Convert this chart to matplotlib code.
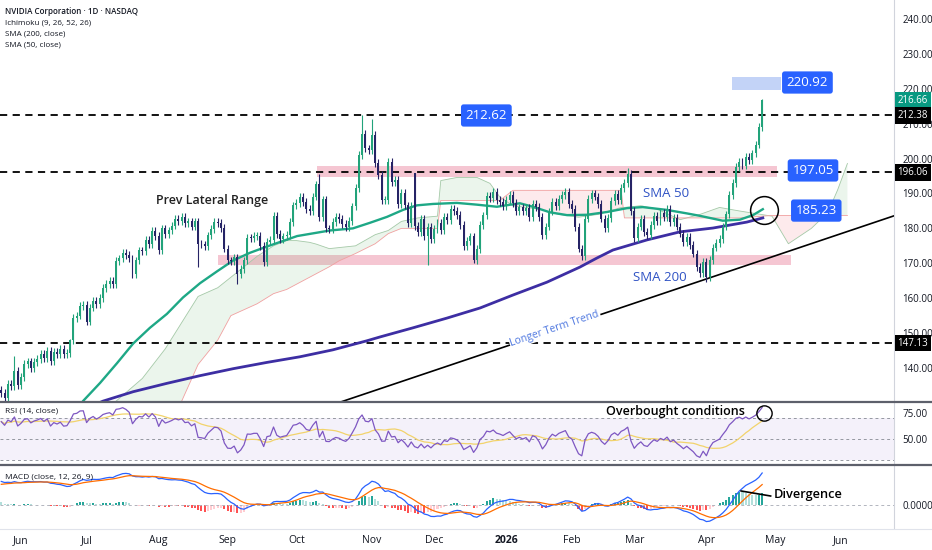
import numpy as np
import pandas as pd
import matplotlib
matplotlib.use("Agg")
import matplotlib.pyplot as plt
import matplotlib.transforms as mtransforms
from matplotlib.lines import Line2D
from matplotlib.patches import Rectangle

plt.rcParams['font.family'] = ['Open Sans', 'DejaVu Sans']

# ---------------------------------------------------------------- data
START = "2025-05-22"
HOLIDAYS = ["2025-05-26", "2025-06-19", "2025-07-04", "2025-09-01",
            "2025-11-27", "2025-12-25", "2026-01-01", "2026-01-19",
            "2026-02-16", "2026-04-03", "2026-05-25"]

# daily closes, one row per month (May 2025 .. Apr 2026)
closes = [
    132.8, 131.3, 135.5, 134.8, 139.2, 135.1,
    137.4, 141.2, 141.9, 140.0, 141.7, 142.6, 144.0, 142.8, 145.0, 142.0,
    144.7, 144.1, 145.5, 143.9, 144.2, 147.9, 154.3, 155.0, 157.8, 158.0,
    153.3, 157.3, 159.3, 158.2, 160.0, 162.9, 164.1, 164.9, 164.1, 170.7, 171.4,
    173.0, 172.4, 171.4, 167.0, 170.8, 173.7, 173.5, 176.8, 175.5, 179.3, 177.9,
    173.7, 180.0, 178.3, 179.4, 180.8, 182.7, 182.1, 183.2, 181.6, 182.0, 180.5,
    182.0, 175.6, 175.4, 175.0, 178.0, 179.8, 181.8, 181.6, 180.2, 174.2,
    170.8, 170.6, 171.7, 167.0, 168.3, 170.8, 177.3, 177.2, 177.8, 177.8, 174.9,
    170.3, 176.2, 176.7, 183.6, 178.4, 177.0, 177.7, 178.2, 181.9, 186.6,
    187.2, 188.9, 187.6, 185.5, 185.0, 189.1, 192.6, 183.2, 188.3, 180.0, 179.8,
    181.8, 183.2, 182.6, 181.2, 180.3, 182.2, 186.3, 191.5, 201.0, 207.0, 202.9, 202.5,
    206.9, 198.7, 195.2, 188.1, 188.2, 199.1, 193.2, 193.8, 186.9, 190.2, 186.6,
    181.4, 186.5, 180.6, 178.9, 182.6, 177.8, 180.3, 177.0,
    179.9, 181.5, 179.6, 183.4, 182.4, 185.6, 185.0, 183.8, 180.9, 175.0, 176.3,
    177.7, 170.9, 174.1, 181.0, 183.7, 189.2, 188.6, 190.5, 188.2, 187.5, 186.5,
    188.1, 189.5, 187.2, 185.0, 186.0, 184.9, 185.8, 183.2, 187.0, 186.2,
    183.3, 178.1, 180.5, 184.8, 187.7, 186.5, 188.5, 189.5, 190.5, 187.0,
    185.6, 180.3, 174.2, 172.0, 182.8, 188.5, 190.0, 189.1, 186.9, 182.8,
    180.2, 183.0, 187.9, 189.8, 188.0, 191.5, 193.0, 195.5, 184.9,
    177.2, 180.5, 182.8, 179.0, 178.0, 180.9, 183.5, 182.1, 184.5, 183.3, 185.5,
    181.9, 183.1, 180.5, 178.5, 176.0, 177.5, 175.2, 172.8, 168.9, 167.2, 170.5,
    166.0, 171.0, 174.5, 175.8, 177.0, 180.5, 184.0, 189.5, 193.0, 197.5,
    199.0, 198.0, 200.5, 199.5, 201.5, 204.0, 209.0, 216.66,
]
first_open = 133.6
open_fix = {126: 195.9}
high_fix = {4: 143.5, 21: 148.3, 97: 195.6, 110: 212.4, 113: 211.3,
            126: 196.0, 191: 197.4, 232: 217.2}
low_fix = {60: 168.8, 72: 164.1, 130: 169.5, 144: 170.0, 177: 171.0,
           215: 164.5}
wick = 1.1

# moving averages (bar index, price)
sma50_x = [21, 24.9, 30.1, 35.3, 40.2, 45.3, 50.5, 55.4, 60.6, 65.8, 70.7,
           75.8, 81, 90.2, 100.2, 107.2, 112.4, 117.6, 122.5, 126.7, 131.6,
           138.9, 145, 151.1, 158.1, 162.1, 167.3, 172.5, 178.6, 184.7, 190.8,
           195.6, 202.9, 209, 213, 220, 225.2, 229.2, 232.2]
sma50_y = [125.0, 130.5, 135.7, 141.4, 147.0, 151.5, 155.5, 160.2, 164.3,
           167.7, 170.8, 173.0, 174.8, 177.8, 179.4, 180.0, 181.6, 183.3,
           185.3, 186.6, 187.0, 187.3, 186.8, 186.2, 187.2, 186.2, 184.6,
           183.8, 183.9, 184.7, 185.8, 186.1, 185.3, 184.3, 183.6, 182.2,
           182.5, 183.8, 185.5]
sma200_x = [28.6, 31, 40.2, 50.5, 60.6, 70.7, 81, 91, 101.1, 111.5, 115.5,
            125.5, 135.9, 146, 156, 166.4, 176.4, 181.6, 186.5, 196.9, 206.9,
            217, 227.3, 232.2]
sma200_y = [129.5, 130.5, 133.2, 135.6, 137.8, 139.8, 141.6, 143.2, 145.2,
            147.8, 148.9, 151.5, 154.3, 157.2, 160.9, 164.6, 168.9, 171.5,
            173.8, 176.7, 179.0, 180.1, 181.8, 183.0]

# ichimoku cloud (span A / span B)
cloud_x = [35, 43, 50, 55, 60, 66, 70, 78, 83, 87, 90, 94, 96, 100, 103, 108,
           114, 118, 122, 127, 133, 134, 139, 145, 149, 152, 156, 164, 170,
           176, 182, 189, 190, 195, 200, 207, 213, 219, 225, 235, 240, 247,
           252, 255, 258]
span_a = [130.5, 137.0, 145.5, 153.0, 160.5, 163.0, 166.0, 172.0, 175.0,
          176.5, 176.5, 176.0, 175.5, 174.2, 174.5, 175.0, 178.2, 179.4, 182.0,
          183.0, 183.5, 193.7, 194.6, 194.6, 192.9, 189.0, 186.5, 185.5, 184.0,
          183.2, 184.0, 186.0, 186.0, 186.5, 185.5, 182.5, 184.0, 186.0, 185.0,
          183.5, 175.6, 180.0, 184.5, 191.0, 198.6]
span_b = [112.0, 116.0, 122.0, 130.5, 141.0, 148.0, 155.0, 158.4, 161.3,
          162.5, 164.0, 166.0, 167.0, 169.0, 170.7, 172.8, 175.6, 178.5, 180.0,
          180.0, 180.0, 188.0, 188.0, 188.0, 188.0, 188.0, 190.9, 190.9, 190.9,
          190.9, 190.9, 190.9, 183.0, 183.0, 183.0, 183.0, 183.0, 183.0, 183.0,
          183.7, 183.7, 183.7, 183.7, 183.7, 183.7]

# indicator state before the first visible bar
ema12_0, ema26_0, signal_0 = 128.5, 122.5, 5.0
rsi_gain_0, rsi_loss_0 = 1.4, 0.7

levels = [212.38, 196.06, 147.13]
trend_x = [103.3, 272.2]
trend_y = [130.2, 183.6]

# ---------------------------------------------------------------- derived
c = np.array(closes)
n = len(c)
idx = np.arange(n)
o = np.r_[first_open, c[:-1]]
for k, v in open_fix.items():
    o[k] = v
h = np.maximum(o, c) + wick
l = np.minimum(o, c) - wick
for k, v in high_fix.items():
    h[k] = v
for k, v in low_fix.items():
    l[k] = v

e12, e26, sig = ema12_0, ema26_0, signal_0
ag, al = rsi_gain_0, rsi_loss_0
macd, signal, rsi = [], [], []
for i in range(n):
    e12 += (c[i] - e12) * 2 / 13
    e26 += (c[i] - e26) * 2 / 27
    m = e12 - e26
    sig += (m - sig) * 2 / 10
    macd.append(m)
    signal.append(sig)
    if i > 0:
        d = c[i] - c[i - 1]
        ag = (ag * 13 + max(d, 0)) / 14
        al = (al * 13 + max(-d, 0)) / 14
    rsi.append(100 - 100 / (1 + ag / al))
macd, signal, rsi = np.array(macd), np.array(signal), np.array(rsi)
hist = macd - signal
rsi_ma = pd.Series(rsi).rolling(14, min_periods=1).mean().values

dates = pd.bdate_range(START, periods=275, freq="C", holidays=HOLIDAYS)
tick_pos, tick_lab = [], []
for i in range(1, len(dates)):
    if dates[i].month != dates[i - 1].month:
        tick_pos.append(i)
        tick_lab.append(str(dates[i].year) if dates[i].month == 1
                        else dates[i].strftime("%b"))

# ---------------------------------------------------------------- style
UP, DOWN = "#22a37a", "#262466"
TXT = "#131722"
BLUE_BOX = "#2962ff"
W, H = 932, 550
XMIN, XMAX = -0.4, 272.2

fig = plt.figure(figsize=(W / 100, H / 100), dpi=100, facecolor="white")


def px_axes(y0, y1):
    return fig.add_axes([0, 1 - y1 / H, 894 / W, (y1 - y0) / H])


ax = px_axes(0, 401)
ax_rsi = px_axes(403, 464)
ax_m = px_axes(466, 528)

for a in (ax, ax_rsi, ax_m):
    a.set_xlim(XMIN, XMAX)
    for s in ("top", "left", "bottom"):
        a.spines[s].set_visible(False)
    a.spines["right"].set_color("#d1d4dc")
    a.yaxis.tick_right()
    a.tick_params(axis="y", length=0, labelsize=7, labelcolor=TXT, pad=6)
    a.tick_params(axis="x", length=0)

# ---------------------------------------------------------------- price
ax.set_ylim(130.54, 245.44)
ax.set_yticks(np.arange(140, 241, 10))
ax.set_yticklabels([f"{v:.2f}" for v in np.arange(140, 241, 10)])
ax.set_xticks([])

ax.add_patch(Rectangle((96.3, 194.6), 140.2, 3.4, fc="#f4bccb", ec="none",
                       alpha=0.85, zorder=1))
ax.add_patch(Rectangle((66.0, 169.6), 174.8, 2.9, fc="#f4bccb", ec="none",
                       alpha=0.85, zorder=1))
ax.add_patch(Rectangle((222.8, 219.7), 14.9, 3.7, fc="#c3d3f7", ec="none",
                       zorder=1))

ca, cb = np.array(span_a), np.array(span_b)
ax.fill_between(cloud_x, ca, cb, where=ca >= cb, interpolate=True,
                color="#43a047", alpha=0.1, lw=0, zorder=1)
ax.fill_between(cloud_x, ca, cb, where=ca < cb, interpolate=True,
                color="#f23645", alpha=0.1, lw=0, zorder=1)
ax.plot(cloud_x, ca, color="#a5c9a8", lw=0.6, zorder=1)
ax.plot(cloud_x, cb, color="#f0a0a0", lw=0.6, zorder=1)

for lv in levels:
    ax.axhline(lv, color="black", lw=1.3, ls=(0, (4, 3)), zorder=2)

ax.plot(trend_x, trend_y, color="black", lw=1.2, zorder=2)
ax.plot(sma200_x, sma200_y, color="#3d2ea3", lw=2.0, zorder=3,
        solid_joinstyle="round")
ax.plot(sma50_x, sma50_y, color="#1ea886", lw=1.7, zorder=3,
        solid_joinstyle="round")

up = c >= o
col = np.where(up, UP, DOWN)
ax.vlines(idx, l, h, colors=col, lw=0.8, zorder=4)
ax.bar(idx, np.maximum(np.abs(c - o), 0.25), bottom=np.minimum(o, c),
       width=0.6, color=col, lw=0, zorder=4)

ax.plot([232.5], [185.3], marker="o", ms=20, mfc="none", mec="black",
        mew=1.1, zorder=6)

ax.text(64.2, 188.1, "Prev Lateral Range", fontsize=9, fontweight="semibold",
        color="#222222", ha="center", va="center")
ax.text(202.7, 190.1, "SMA 50", fontsize=9.5, color="#2f52c4",
        ha="center", va="center")
ax.text(200.8, 165.8, "SMA 200", fontsize=9.5, color="#2f52c4",
        ha="center", va="center")
ax.text(168.8, 151.2, "Longer Term Trend", fontsize=7.5, color="#4f78e0",
        ha="center", va="center", rotation=18.6, zorder=5,
        bbox=dict(boxstyle="square,pad=0.1", fc="white", ec="none"))

for x, y, s in [(147.9, 212.35, "212.62"), (245.8, 221.8, "220.92"),
                (247.5, 196.6, "197.05"), (248.5, 185.1, "185.23")]:
    ax.text(x, y, s, fontsize=9.5, color="white", ha="center", va="center",
            zorder=7, bbox=dict(boxstyle="round,pad=0.35,rounding_size=0.2",
                                fc=BLUE_BOX, ec="none"))

tr = mtransforms.blended_transform_factory(ax.transAxes, ax.transData)
for y, s, fc in [(216.66, "216.66", "#089981"), (212.38, "212.38", "black"),
                 (196.06, "196.06", "black"), (147.13, "147.13", "black")]:
    ax.text(1.004, y, s, transform=tr, fontsize=7, color="white", ha="left",
            va="center", clip_on=False, zorder=8,
            bbox=dict(boxstyle="square,pad=0.28", fc=fc, ec="none"))

legend_lines = ["NVIDIA Corporation · 1D · NASDAQ", "Ichimoku (9, 26, 52, 26)",
                "SMA (200, close)", "SMA (50, close)"]
for k, s in enumerate(legend_lines):
    ax.text(5 / 894, 1 - (11 + 11.5 * k) / 401, s, transform=ax.transAxes,
            fontsize=5.8, color=TXT, ha="left", va="center",
            fontweight="semibold" if k == 0 else "normal")

# ---------------------------------------------------------------- RSI
ax_rsi.set_ylim(26, 84.6)
ax_rsi.set_yticks([75, 50])
ax_rsi.set_yticklabels(["75.00", "50.00"])
ax_rsi.set_xticks([])
ax_rsi.axhspan(30, 70, color="#7e57c2", alpha=0.08, lw=0)
for lv in (70, 50, 30):
    ax_rsi.axhline(lv, color="#9598a1", lw=0.7, ls=(0, (3, 3)))
ax_rsi.plot(idx, rsi_ma, color="#f2d36b", lw=0.9)
ax_rsi.plot(idx, rsi, color="#7e57c2", lw=0.9)
ax_rsi.plot([232.5], [75], marker="o", ms=11, mfc="none", mec="black",
            mew=1.0, zorder=6)
ax_rsi.text(205.7, 76.5, "Overbought conditions", fontsize=9,
            fontweight="semibold", color="black", ha="center", va="center")
ax_rsi.text(5 / 894, 0.87, "RSI (14, close)", transform=ax_rsi.transAxes,
            fontsize=6, color=TXT, ha="left", va="center")

# ---------------------------------------------------------------- MACD
top = max(macd.max(), signal.max())
ax_m.set_ylim(-top * 23 / 32, top * 39 / 32)
ax_m.set_yticks([0])
ax_m.set_yticklabels(["0.0000"])
ax_m.axhline(0, color="#b2b5be", lw=0.7, ls=(0, (3, 3)))
prev = np.r_[hist[0], hist[:-1]]
hcol = np.where(hist >= 0, np.where(hist > prev, "#26a69a", "#b2dfdb"),
                np.where(hist > prev, "#ffcdd2", "#ff5252"))
ax_m.bar(idx, hist, width=0.62, color=hcol, lw=0)
ax_m.plot(idx, macd, color="#2962ff", lw=0.9)
ax_m.plot(idx, signal, color="#ff6d00", lw=0.9)
ax_m.plot([0.829, 0.862], [0.597, 0.516], transform=ax_m.transAxes,
          color="black", lw=1.2)
ax_m.text(808 / 894, 0.548, "Divergence", transform=ax_m.transAxes,
          fontsize=9.2, fontweight="semibold", color="black", ha="center",
          va="center")
ax_m.text(5 / 894, 0.82, "MACD (close, 12, 26, 9)", transform=ax_m.transAxes,
          fontsize=6, color=TXT, ha="left", va="center")

ax_m.set_xticks(tick_pos)
ax_m.set_xticklabels(tick_lab)
ax_m.tick_params(axis="x", labelsize=7.5, labelcolor=TXT, pad=5)
for t in ax_m.get_xticklabels():
    if t.get_text() == "2026":
        t.set_fontweight("bold")
ax_m.set_xlim(XMIN, XMAX)

# ---------------------------------------------------------------- frame
for y, colr, lw in [(401.5, "#5d606b", 1.6), (465, "#5d606b", 1.6),
                    (528.5, "#e0e3eb", 0.8)]:
    fig.add_artist(Line2D([0, 1], [1 - y / H, 1 - y / H],
                          transform=fig.transFigure, color=colr, lw=lw))

fig.savefig("out.png", dpi=100, facecolor="white")
